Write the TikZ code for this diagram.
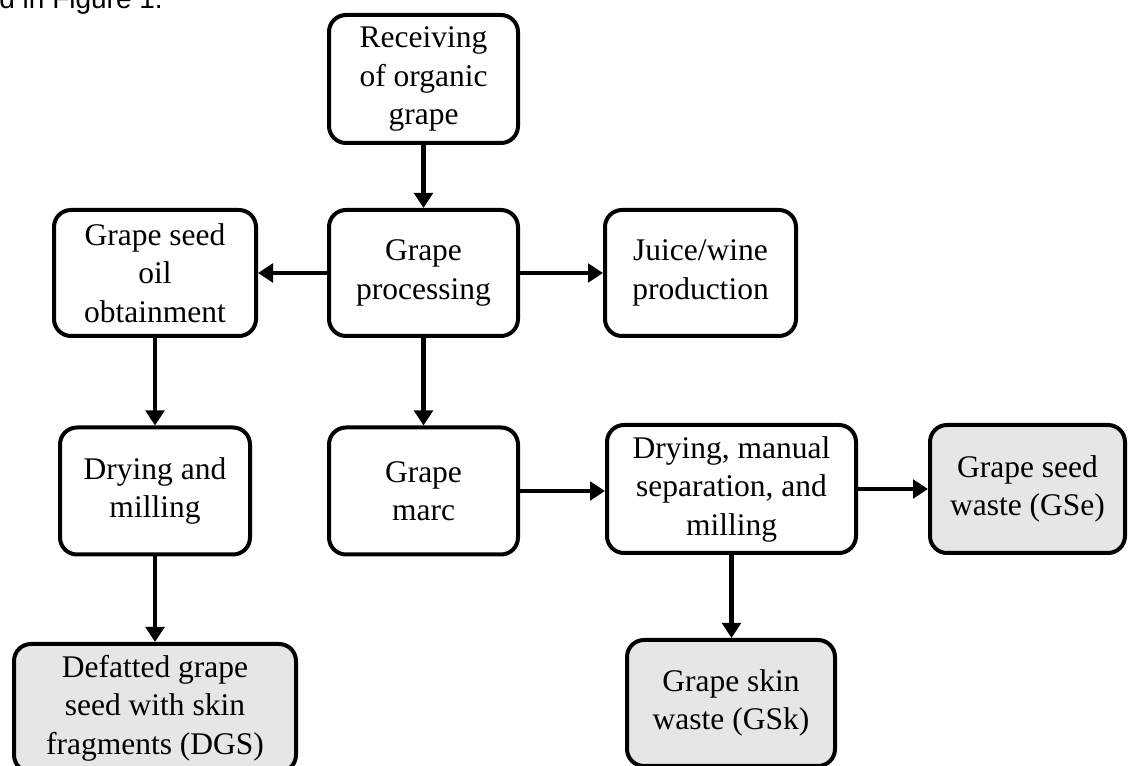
\documentclass[tikz,border=0pt]{standalone}
\usepackage{fontspec}
\setmainfont{Liberation Serif}
\newfontfamily\arialfont{Liberation Sans}
\usetikzlibrary{arrows.meta}
\definecolor{boxgray}{RGB}{231,230,230}
\begin{document}
\begin{tikzpicture}[x=1pt,y=1pt,
  stepbox/.style={draw, line width=4pt, rounded corners=17pt, fill=white,
    align=center, inner sep=0pt, font=\fontsize{31.5}{38.5}\selectfont},
  endbox/.style={stepbox, fill=boxgray},
  flow/.style={line width=4.8pt, -{Triangle[length=15pt,width=18.5pt]}}]
\useasboundingbox (0,0) rectangle (1128,766);
\clip (0,0) rectangle (1128,766);

\node[anchor=base east, inner sep=0pt, font=\arialfont\fontsize{28}{32}\selectfont] (caption) at (163,757) {d in Figure 1.};

\node[stepbox, minimum width=189pt, minimum height=128pt] (rec) at (423.5,687) {Receiving\\of organic\\grape};
\node[stepbox, minimum width=189pt, minimum height=126pt] (gp) at (423.5,493) {Grape\\processing};
\node[stepbox, minimum width=191pt, minimum height=126pt] (juice) at (700.5,493) {Juice/wine\\production};
\node[stepbox, minimum width=202pt, minimum height=126pt] (gso) at (155,493) {Grape seed\\oil\\obtainment};
\node[stepbox, minimum width=190pt, minimum height=127pt] (dm) at (155,275) {Drying and\\milling};
\node[stepbox, minimum width=189pt, minimum height=127pt] (gm) at (423.5,275) {Grape\\marc};
\node[stepbox, minimum width=249pt, minimum height=128pt] (dms) at (731.5,277) {Drying, manual\\separation, and\\milling};
\node[endbox, minimum width=195pt, minimum height=128pt] (gse) at (1027.5,277) {Grape seed\\waste (GSe)};
\node[endbox, minimum width=208pt, minimum height=126pt] (gsk) at (731,63) {Grape skin\\waste (GSk)};
\node[endbox, minimum width=282pt, minimum height=128pt] (dgs) at (155,58) {Defatted grape\\seed with skin\\fragments (DGS)};

\draw[flow] (rec) -- (gp);
\draw[flow] (gp) -- (gso);
\draw[flow] (gp) -- (juice);
\draw[flow] (gp) -- (gm);
\draw[flow] (gso) -- (dm);
\draw[flow] (dm) -- (dgs);
\draw[flow] (gm.east) -- (gm.east -| dms.west);
\draw[flow] (dms) -- (gse);
\draw[flow] (dms.south) -- (dms.south |- gsk.north);
\end{tikzpicture}
\end{document}
